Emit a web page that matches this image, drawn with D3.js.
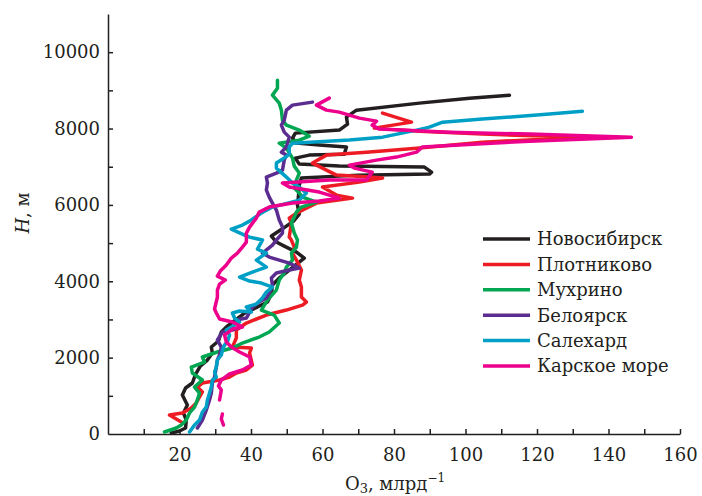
<!DOCTYPE html>
<html>
<head>
<meta charset="utf-8">
<script src="https://cdn.jsdelivr.net/npm/d3@7"></script>
<style>
  body { margin: 0; background: #fff; }
  text { font-family: "DejaVu Serif", serif; fill: #231f20; }
</style>
</head>
<body>
<script>
// O3 (ppb) vs altitude H (m)
const novosibirsk = [[17.7,26],[20,79],[21.7,157],[21.9,366],[21.1,550],[22.2,759],[20.8,1021],[21.7,1204],[23.6,1335],[24.4,1545],[25.8,1780],[27.8,1937],[29.2,2120],[28.9,2278],[30.9,2435],[31.7,2670],[33.4,2827],[35.6,2984],[38.2,3168],[41.8,3325],[44.6,3456],[45.7,3665],[46.0,3901],[48.2,4110],[50.7,4294],[53.5,4503],[54.9,4608],[52.7,4765],[49.3,4922],[47.1,5027],[45.7,5184],[49.1,5393],[51.9,5576],[53.5,5760],[53.0,5995],[53.3,6257],[53.5,6519],[54.1,6702],[70,6780],[89.9,6807],[90.5,6859],[88.5,6990],[64.7,7016],[53.5,7069],[52.4,7226],[56.3,7304],[66.1,7330],[66.7,7514],[59.1,7566],[52.7,7618],[51.6,7749],[52.4,7880],[64.7,7959],[67.0,8116],[66.7,8299],[69.5,8482],[87.1,8666],[101.1,8796],[112.3,8875]];

const plotnikovo = [[20.5,314],[17.2,497],[20.8,550],[23.3,681],[24.7,812],[25.6,969],[26.4,1100],[25.0,1230],[26.4,1335],[31.2,1414],[34.0,1492],[35.9,1597],[38.7,1676],[40.4,1806],[39.6,2121],[40.1,2251],[34.8,2278],[35.9,2513],[35.9,2723],[38.7,2906],[44.3,3115],[49.9,3246],[54.4,3377],[55.5,3456],[54.1,3587],[54.1,3848],[53.5,4032],[54.1,4294],[52.7,4555],[51.6,4739],[52.1,4896],[51.3,5079],[50.7,5157],[51.3,5524],[50.7,5655],[52.7,5786],[58.3,6048],[68.4,6178],[63.9,6257],[60.0,6467],[70.3,6597],[76.8,6702],[73.1,6728],[63.9,6781],[57.2,7095],[61.1,7304],[72.3,7382],[86.3,7487],[104.7,7644],[133.3,7775],[104.7,7854],[87.1,7932],[74.5,8011],[84.9,8168],[76.8,8404]];

const mukhrino = [[15.8,52],[19.1,157],[20.5,236],[21.9,366],[22.8,550],[24.2,707],[25.0,890],[25.6,1073],[24.2,1230],[26.4,1414],[23.6,1597],[23.3,1754],[27.0,1885],[26.4,2016],[30.6,2147],[34.8,2251],[37.6,2382],[42.3,2539],[45.1,2670],[47.9,2906],[46.5,3115],[42.9,3246],[44.6,3508],[47.1,3770],[47.9,4032],[49.3,4215],[49.9,4372],[51.6,4555],[51.3,4739],[52.7,4896],[53.0,5079],[52.1,5262],[51.3,5524],[52.1,5681],[52.7,5812],[54.1,5943],[58.3,6074],[54.4,6205],[53.5,6309],[52.1,6440],[52.7,6650],[53.5,6833],[52.1,7016],[51.6,7226],[49.9,7487],[47.9,7618],[53.5,7697],[56.3,7801],[53.5,7959],[49.9,8090],[48.8,8220],[48.5,8482],[47.9,8666],[46.0,8875],[47.4,9058],[47.4,9267]];

const beloyarsk = [[25.0,157],[26.4,366],[27.5,628],[28.4,890],[28.9,1073],[29.2,1335],[29.8,1492],[30.3,1754],[30.6,1937],[31.2,2068],[31.7,2278],[30.6,2461],[32.0,2670],[34.8,2723],[36.8,2801],[35.9,2984],[38.7,3037],[40.4,3325],[42.3,3456],[44.3,3560],[45.1,3691],[46.0,3901],[45.7,4084],[47.1,4215],[50.7,4294],[53.5,4346],[50.7,4477],[47.9,4555],[45.1,4634],[43.2,4739],[46.0,4948],[47.1,5079],[48.8,5262],[48.8,5419],[47.9,5602],[47.1,5864],[46.0,6048],[45.1,6205],[44.3,6388],[44.6,6571],[44.3,6728],[47.1,6833],[48.8,6912],[49.3,7173],[49.9,7304],[48.5,7382],[49.9,7514],[50.7,7775],[49.3,7906],[48.5,8090],[49.3,8220],[49.9,8482],[51.6,8613],[57.2,8692]];

const salekhard = [[22.8,52],[24.2,236],[25.6,366],[26.4,576],[27.5,707],[27.8,890],[28.4,1073],[28.9,1230],[29.2,1414],[30.3,1492],[29.8,1623],[30.3,1754],[30.6,1937],[31.7,2068],[32.0,2199],[32.6,2330],[33.4,2409],[34.0,2592],[33.1,2723],[35.4,2854],[36.8,2932],[35.4,3037],[34.8,3168],[36.8,3220],[40.1,3194],[38.7,3325],[41.5,3403],[43.2,3560],[44.3,3718],[46.0,3848],[42.9,3953],[39.6,4006],[36.8,4110],[40.4,4241],[44.3,4372],[41.5,4555],[44.3,4739],[41.8,4843],[43.2,5079],[39.6,5157],[38.2,5210],[34.5,5367],[37.6,5472],[39.6,5576],[42.9,5786],[46.0,5943],[53.5,6126],[55.5,6309],[53.5,6467],[51.6,6571],[49.9,6728],[47.1,6964],[47.1,7095],[49.3,7226],[50.7,7330],[50.7,7514],[51.6,7618],[67.5,7697],[76.8,7775],[86.3,7959],[89.9,8037],[93.6,8168],[104.7,8247],[123.5,8378],[132.7,8456]];

// null marks a gap in the profile
const karskoe = [[32.3,236],[31.7,393],[32.0,524],null,[31.2,890],[31.7,1152],[30.9,1257],[31.7,1414],[34.0,1571],[37.6,1676],[40.1,1806],[39.6,2016],[36.8,2147],[34.5,2278],[33.1,2409],[32.6,2592],[34.8,2749],[37.6,2801],[34.8,2932],[31.2,3011],[30.3,3168],[29.8,3273],[30.6,3587],[30.6,3770],[31.2,3927],[32.8,4032],[30.6,4136],[31.4,4267],[33.1,4424],[34.5,4608],[36.2,4739],[37.6,4896],[38.7,5027],[38.7,5262],[39.6,5419],[41.5,5655],[42.3,5812],[45.1,5943],[51.6,6048],[59.1,6100],[64.7,6178],[59.1,6336],[50.7,6467],[48.8,6571],[61.9,6650],[72.3,6650],[73.9,6859],[68.9,6964],[67.5,7042],[75.1,7173],[80.7,7252],[86.3,7382],[87.9,7514],[117.9,7670],[146.4,7775],[117.9,7854],[95.5,7906],[75.9,7985],[73.9,8090],[75.1,8194],[70.3,8273],[64.7,8430],[61.1,8482],[58.3,8613],[61.9,8796]];

const stationNames = ["Новосибирск", "Плотниково", "Мухрино", "Белоярск", "Салехард", "Карское море"];
const stationData = [novosibirsk, plotnikovo, mukhrino, beloyarsk, salekhard, karskoe];
const stationColors = ["#231f20", "#ed1c24", "#00a651", "#5c2d91", "#00a0c6", "#ec008c"];

const xTicks = d3.range(10, 161, 10);
const xLabels = [20, 40, 60, 80, 100, 120, 140, 160];
const yTicks = d3.range(1000, 10001, 1000);
const yLabels = [0, 2000, 4000, 6000, 8000, 10000];

const dimensions = {
    width: 702,
    height: 496,
    margin: { top: 14, left: 108, right: 22, bottom: 62 },
}

const svg = d3.select("body").append("svg")
    .attr("width", dimensions.width)
    .attr("height", dimensions.height);

const xScale = d3.scaleLinear()
    .domain([0, 160])
    .range([dimensions.margin.left, dimensions.width - dimensions.margin.right]);

const yScale = d3.scaleLinear()
    .domain([0, 11000])
    .range([dimensions.height - dimensions.margin.bottom, dimensions.margin.top]);

const x0 = xScale(0), y0 = yScale(0);

// axes with inward ticks
const xAxis = svg.append("g")
    .attr("transform", `translate(0,${y0})`)
    .call(d3.axisBottom(xScale).tickValues(xTicks).tickSizeInner(-5).tickSizeOuter(0)
        .tickFormat(d => xLabels.includes(d) ? d : ""));
xAxis.selectAll(".tick text").attr("dy", "1.35em");

const yAxis = svg.append("g")
    .attr("transform", `translate(${x0},0)`)
    .call(d3.axisLeft(yScale).tickValues(yTicks).tickSizeInner(-5).tickSizeOuter(0)
        .tickFormat(d => yLabels.includes(d) ? d : ""));
yAxis.append("text")
    .attr("x", -8).attr("y", y0).attr("dy", "0.32em")
    .attr("text-anchor", "end").text(yLabels[0]);

svg.selectAll(".domain, .tick line").attr("stroke", "#231f20").attr("stroke-width", 1.5);
svg.selectAll(".tick text, g > text").style("font-family", "DejaVu Serif").style("font-size", "18px").attr("fill", "#231f20");
yAxis.selectAll(".tick text").attr("x", -8);

// profiles
const line = d3.line()
    .defined(d => d !== null)
    .x(d => xScale(d[0]))
    .y(d => yScale(d[1]));

svg.append("g").selectAll("path")
    .data(stationData)
    .join("path")
    .attr("d", line)
    .attr("fill", "none")
    .attr("stroke", (d, i) => stationColors[i])
    .attr("stroke-width", 3.5)
    .attr("stroke-linejoin", "round")
    .attr("stroke-linecap", "round");

// legend
const legend = svg.append("g").attr("transform", "translate(483,239)");
const rows = legend.selectAll("g")
    .data(stationNames)
    .join("g")
    .attr("transform", (d, i) => `translate(0,${i * 25.4})`);
rows.append("line")
    .attr("x1", 0).attr("x2", 47)
    .attr("stroke", (d, i) => stationColors[i])
    .attr("stroke-width", 3.5);
rows.append("text")
    .attr("x", 54).attr("dy", "0.35em")
    .style("font-size", "18px")
    .text(d => d);

// axis titles
const xTitle = svg.append("text")
    .attr("x", 395).attr("y", 490)
    .attr("text-anchor", "middle")
    .style("font-size", "18px");
xTitle.append("tspan").text("O");
xTitle.append("tspan").attr("dy", 3).style("font-size", "13px").text("3");
xTitle.append("tspan").attr("dy", -3).text(", млрд");
xTitle.append("tspan").attr("dy", -8).style("font-size", "12px").text("−1");

const yTitle = svg.append("text")
    .attr("transform", `translate(29,213) rotate(-90)`)
    .attr("text-anchor", "middle")
    .style("font-size", "18px");
yTitle.append("tspan").style("font-style", "italic").text("H");
yTitle.append("tspan").text(", м");
</script>
</body>
</html>
